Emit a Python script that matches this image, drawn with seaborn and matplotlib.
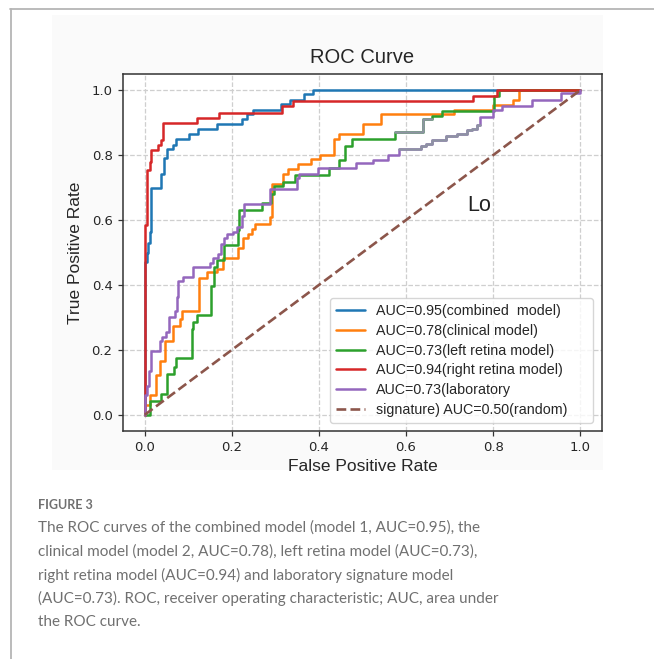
import matplotlib
matplotlib.use("Agg")
import matplotlib.pyplot as plt
from matplotlib.lines import Line2D
from matplotlib.patches import Rectangle
import seaborn as sns
import pandas as pd

# ROC step points: fpr where tpr jumps, tpr after the jump
combined_fpr = [0, 0.004, 0.008, 0.011, 0.014, 0.038, 0.044, 0.05, 0.064, 0.071, 0.102, 0.123,
                0.165, 0.224, 0.234, 0.248, 0.313, 0.333, 0.365, 0.386, 1.0]
combined_tpr = [0.47, 0.50, 0.53, 0.563, 0.70, 0.743, 0.79, 0.82, 0.83, 0.85, 0.864, 0.88,
                0.895, 0.91, 0.926, 0.938, 0.957, 0.969, 0.988, 1.0, 1.0]

clinical_fpr = [0, 0.012, 0.025, 0.036, 0.046, 0.065, 0.081, 0.085, 0.125, 0.143, 0.166, 0.18,
                0.213, 0.225, 0.238, 0.246, 0.253, 0.288, 0.293, 0.317, 0.33, 0.353, 0.382,
                0.403, 0.434, 0.445, 0.50, 0.543, 0.71, 0.80, 0.846, 0.86, 1.0]
clinical_tpr = [0.03, 0.062, 0.123, 0.167, 0.226, 0.272, 0.295, 0.319, 0.42, 0.441, 0.45, 0.484,
                0.515, 0.545, 0.558, 0.573, 0.588, 0.609, 0.712, 0.743, 0.758, 0.774, 0.787,
                0.80, 0.851, 0.864, 0.895, 0.926, 0.94, 0.954, 0.971, 1.0, 1.0]

left_fpr = [0, 0.012, 0.038, 0.051, 0.067, 0.071, 0.108, 0.111, 0.12, 0.151, 0.16, 0.166, 0.182,
            0.213, 0.217, 0.27, 0.29, 0.296, 0.317, 0.346, 0.422, 0.445, 0.46, 0.475, 0.574,
            0.64, 0.66, 0.682, 0.803, 0.814, 1.0]
left_tpr = [0.0, 0.043, 0.064, 0.127, 0.148, 0.175, 0.264, 0.285, 0.306, 0.398, 0.455, 0.477, 0.522,
            0.57, 0.632, 0.652, 0.681, 0.704, 0.717, 0.74, 0.761, 0.786, 0.827, 0.849, 0.871,
            0.912, 0.92, 0.936, 0.981, 1.0, 1.0]

right_fpr = [0, 0.004, 0.011, 0.015, 0.03, 0.038, 0.042, 0.119, 0.17, 0.315, 0.34, 0.753, 0.808, 1.0]
right_tpr = [0.586, 0.753, 0.78, 0.815, 0.83, 0.846, 0.90, 0.915, 0.93, 0.95, 0.967, 0.982, 1.0, 1.0]

lab_fpr = [0, 0.004, 0.01, 0.015, 0.036, 0.04, 0.048, 0.056, 0.069, 0.073, 0.077, 0.088, 0.11,
           0.15, 0.157, 0.169, 0.174, 0.182, 0.188, 0.203, 0.212, 0.223, 0.228, 0.288, 0.35,
           0.355, 0.397, 0.484, 0.524, 0.559, 0.584, 0.635, 0.645, 0.66, 0.691, 0.718, 0.741,
           0.752, 0.764, 0.77, 0.799, 0.82, 0.89, 0.955, 1.0]
lab_tpr = [0.062, 0.09, 0.136, 0.195, 0.226, 0.241, 0.254, 0.302, 0.321, 0.364, 0.411, 0.424, 0.455,
           0.468, 0.484, 0.496, 0.527, 0.545, 0.558, 0.563, 0.58, 0.614, 0.65, 0.697, 0.73,
           0.743, 0.76, 0.776, 0.786, 0.80, 0.82, 0.827, 0.835, 0.848, 0.858, 0.866, 0.877,
           0.882, 0.892, 0.918, 0.938, 0.951, 0.971, 0.99, 1.0]

random_fpr = [0.0, 1.0]
random_tpr = [0.0, 1.0]

labels = ["AUC=0.95(combined  model)", "AUC=0.78(clinical model)", "AUC=0.73(left retina model)",
          "AUC=0.94(right retina model)", "AUC=0.73(laboratory", "signature) AUC=0.50(random)"]
colors = ["#1f77b4", "#ff7f0e", "#2ca02c", "#d62728", "#9467bd", "#8c564b"]

# greyed-out stretches visible in the source image
faded = {"left": (0.574, 0.66), "lab": (0.584, 0.77)}

caption_head = "FIGURE 3"
caption_lines = [
    "The ROC curves of the combined model (model 1, AUC=0.95), the",
    "clinical model (model 2, AUC=0.78), left retina model (AUC=0.73),",
    "right retina model (AUC=0.94) and laboratory signature model",
    "(AUC=0.73). ROC, receiver operating characteristic; AUC, area under",
    "the ROC curve.",
]

sns.set_style("ticks")
plt.rcParams["font.family"] = ["Liberation Sans", "DejaVu Sans"]

W, H = 654, 659
fig = plt.figure(figsize=(W / 100, H / 100), dpi=100)
fig.patch.set_facecolor("white")

# faint panel behind the chart and the page frame lines
fig.patches.append(Rectangle((52 / W, 1 - 470 / H), 551 / W, 455 / H, transform=fig.transFigure,
                             facecolor="#fafafa", edgecolor="none", zorder=-10))
fig.add_artist(Line2D([10 / W, 1], [1 - 8.5 / H, 1 - 8.5 / H], color="#b5b5b5", lw=1.3))
fig.add_artist(Line2D([10.5 / W, 10.5 / W], [0, 1 - 8.5 / H], color="#b5b5b5", lw=1.3))

ax = fig.add_axes([123 / W, 1 - 431 / H, 479 / W, 357 / H])
ax.set_zorder(5)
ax.set_facecolor("white")

series = {
    "combined": (combined_fpr, combined_tpr),
    "clinical": (clinical_fpr, clinical_tpr),
    "left": (left_fpr, left_tpr),
    "right": (right_fpr, right_tpr),
    "lab": (lab_fpr, lab_tpr),
}

for (key, (fx, ty)), lab, col in zip(series.items(), labels[:5], colors[:5]):
    df = pd.DataFrame({"fpr": [0.0] + fx, "tpr": [0.0] + ty})
    sns.lineplot(data=df, x="fpr", y="tpr", ax=ax, estimator=None, sort=False,
                 drawstyle="steps-post", color=col, lw=1.8, label=lab)
    if key in faded:
        lo, hi = faded[key]
        part = df[(df.fpr >= lo) & (df.fpr < hi)]
        end = pd.DataFrame({"fpr": [hi], "tpr": [part.tpr.iloc[-1]]})
        part = pd.concat([part, end], ignore_index=True)
        sns.lineplot(data=part, x="fpr", y="tpr", ax=ax, estimator=None, sort=False,
                     drawstyle="steps-post", color="#8e93a3", lw=1.8, legend=False,
                     label="_nolegend_")

sns.lineplot(x=random_fpr, y=random_tpr, ax=ax, estimator=None, color=colors[5], lw=1.9,
             linestyle="--", label=labels[5])

ax.set_xlim(-0.05, 1.05)
ax.set_ylim(-0.05, 1.05)
ax.set_xticks([0, 0.2, 0.4, 0.6, 0.8, 1.0])
ax.set_yticks([0, 0.2, 0.4, 0.6, 0.8, 1.0])
ax.set_xticklabels(["0.0", "0.2", "0.4", "0.6", "0.8", "1.0"], family="DejaVu Sans", fontsize=9.5)
ax.set_yticklabels(["0.0", "0.2", "0.4", "0.6", "0.8", "1.0"], family="DejaVu Sans", fontsize=9.5)
ax.tick_params(length=3.5, width=0.9, color="#333333", pad=4)
ax.grid(True, linestyle="--", color="#cfcfcf", lw=0.9)
ax.set_axisbelow(True)
for s in ax.spines.values():
    s.set_color("#333333")
    s.set_linewidth(1.1)

ax.set_title("ROC Curve", fontsize=14.5, pad=8)
ax.set_xlabel("False Positive Rate", fontsize=12.5, labelpad=3)
ax.set_ylabel("True Positive Rate", fontsize=12.5, labelpad=6)

ax.text(0.74, 0.645, "Lo", fontsize=15.5, va="center", ha="left", color="#222222")

ax.legend(loc="lower left", bbox_to_anchor=(0.432, 0.022, 0.549, 0.35), mode="expand",
          borderaxespad=0, fontsize=10.3, handlelength=2.0, labelspacing=0.4,
          borderpad=0.45, framealpha=0.8, edgecolor="#cccccc", fancybox=True)

fig.text(38 / W, 1 - 505 / H, caption_head, fontsize=9, color="#707070", weight="bold",
         family="Lato", va="center", ha="left")
for i, line in enumerate(caption_lines):
    fig.text(38 / W, 1 - (528 + 23.6 * i) / H, line, fontsize=11.0, color="#707070",
             family="Lato", va="center", ha="left")

fig.savefig("out.png", dpi=100)
